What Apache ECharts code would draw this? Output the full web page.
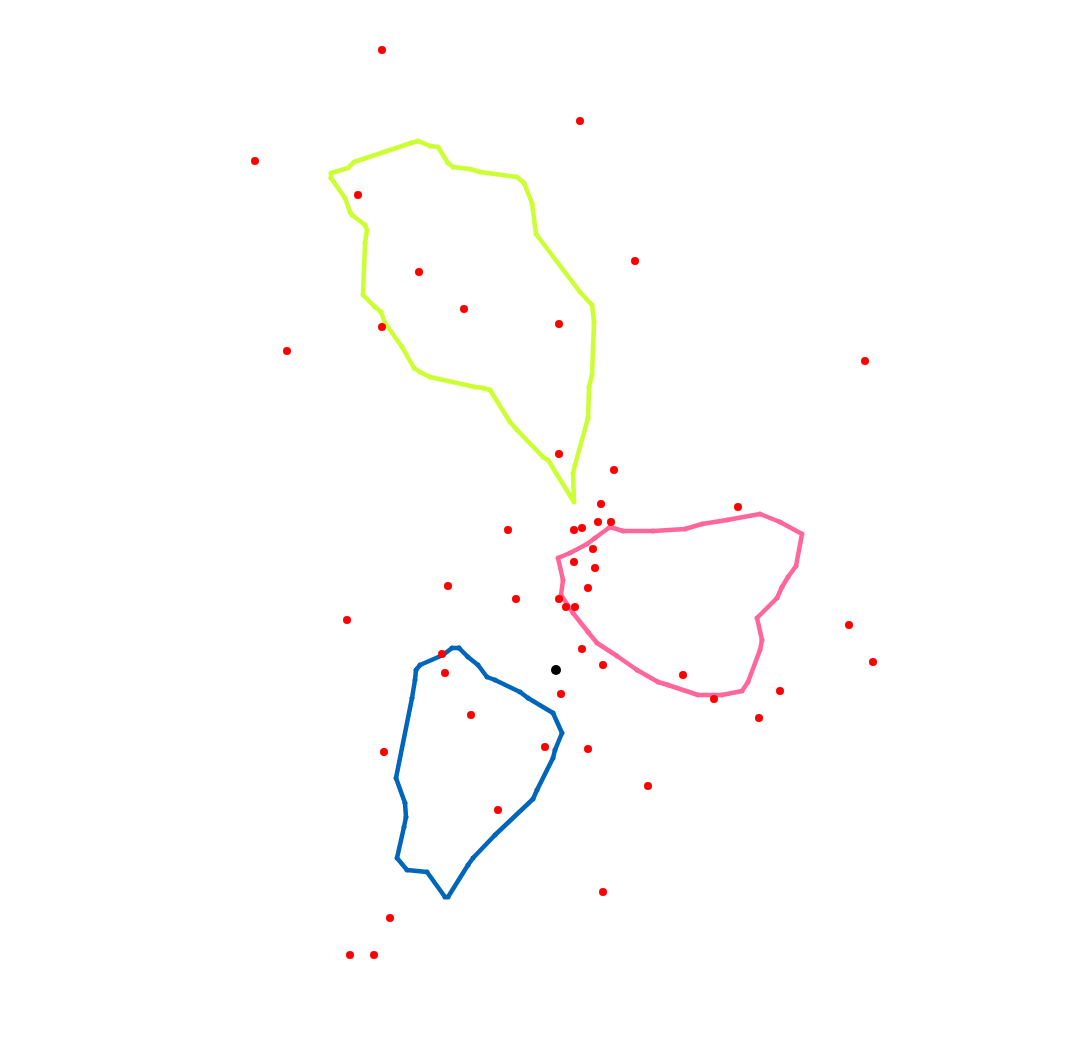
<!DOCTYPE html>
<html><head><meta charset="utf-8">
<script src="https://cdn.jsdelivr.net/npm/echarts@6/dist/echarts.min.js"></script>
<style>html,body{margin:0;padding:0;background:#fff}#c{width:1067px;height:1050px}</style>
</head><body><div id="c"></div>
<script>
const greenArea = [[331,178],[331,173],[348,168],[354,162],[411,143],[418,141],[430,146],[438,147],[448,163],[453,167],[470,169],[480,172],[517,177],[524,183],[532,203],[536,234],[580,292],[592,305],[594,322],[592,375],[589,387],[588,418],[575,465],[573,473],[574,502],[548,460],[543,457],[517,430],[510,422],[490,390],[483,388],[475,387],[430,377],[420,372],[414,368],[402,347],[385,323],[381,312],[375,307],[363,295],[365,243],[367,230],[365,225],[352,215],[350,212],[345,198],[331,178]];
const pinkArea = [[610,527],[623,531],[653,531],[685,529],[702,524],[727,520],[760,514],[780,522],[802,534],[796,566],[788,577],[782,587],[777,598],[757,618],[762,640],[760,650],[748,682],[742,691],[722,695],[698,695],[668,685],[658,682],[637,670],[617,656],[597,643],[588,632],[573,613],[561,595],[563,580],[558,558],[570,553],[587,544],[595,538],[610,527]];
const blueArea = [[459,648],[452,648],[443,655],[420,665],[416,670],[415,680],[412,698],[396,778],[405,803],[406,817],[404,827],[397,858],[407,870],[427,872],[445,897],[448,897],[468,865],[473,858],[495,835],[533,799],[537,790],[553,758],[555,750],[562,733],[553,713],[528,698],[520,692],[495,680],[487,677],[478,665],[468,657],[459,648]];
const redPoints = [[382,50],[580,121],[255,161],[358,195],[635,261],[419,272],[464,309],[559,324],[382,327],[287,351],[865,361],[559,454],[614,470],[601,504],[738,507],[508,530],[574,530],[582,528],[598,522],[611,522],[593,549],[574,562],[595,568],[448,586],[588,588],[516,599],[559,599],[566,607],[575,607],[347,620],[849,625],[873,662],[582,649],[442,654],[445,673],[603,665],[683,675],[561,694],[714,699],[780,691],[759,718],[471,715],[384,752],[545,747],[588,749],[648,786],[498,810],[603,892],[390,918],[350,955],[374,955]];
const centerPoint = [[556,670]];

const chart = echarts.init(document.getElementById('c'));
function area(data, color){
  return {type:'line', data, symbol:'circle', symbolSize:5, showSymbol:true, showAllSymbol:true,
    lineStyle:{color:color, width:4.5, opacity:1}, itemStyle:{color:color, opacity:1}, z:2};
}
chart.setOption({
  animation:false,
  grid:{left:0,right:0,top:0,bottom:0},
  xAxis:{type:'value', min:0, max:1067, show:false},
  yAxis:{type:'value', min:0, max:1050, inverse:true, show:false},
  series:[
    area(greenArea,'#ccff33'),
    area(pinkArea,'#ff6699'),
    area(blueArea,'#0066bb'),
    {type:'scatter', data:redPoints, symbolSize:8, itemStyle:{color:'#ff0000', opacity:1}, z:3},
    {type:'scatter', data:centerPoint, symbolSize:10, itemStyle:{color:'#000000', opacity:1}, z:4}
  ]
});
</script></body></html>
